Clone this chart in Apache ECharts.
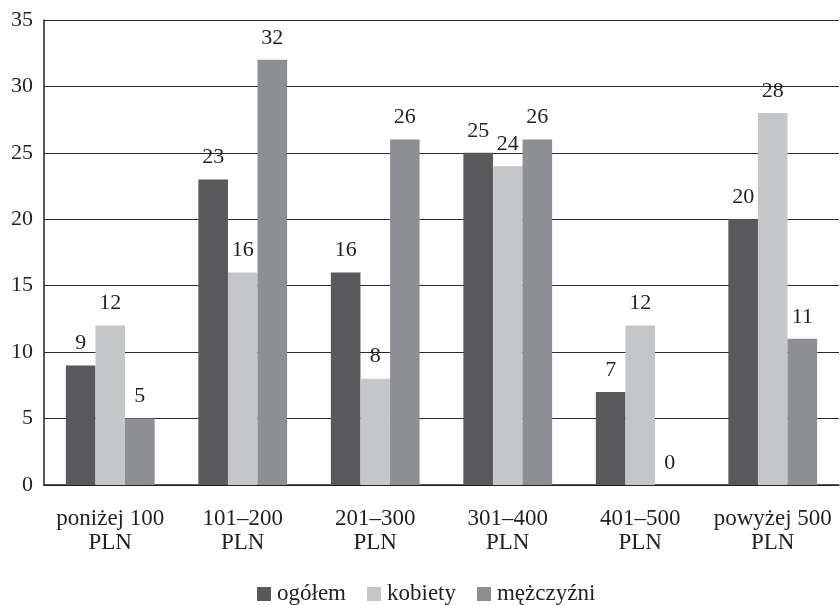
<!DOCTYPE html>
<html>
<head>
<meta charset="utf-8">
<script src="https://cdn.jsdelivr.net/npm/echarts@6/dist/echarts.min.js"></script>
<style>
  html, body { margin: 0; padding: 0; background: #fff; }
  #chart { width: 840px; height: 605px; }
</style>
</head>
<body>
<div id="chart"></div>
<script>
// Wydatki wg przedziałów kwot (%)
const categories = ['poniżej 100\nPLN', '101–200\nPLN', '201–300\nPLN', '301–400\nPLN', '401–500\nPLN', 'powyżej 500\nPLN'];
const ogolem = [9, 23, 16, 25, 7, 20];
const kobiety = [12, 16, 8, 24, 12, 28];
const mezczyzni = [5, 32, 26, 26, 0, 11];
const seriesNames = ['ogółem', 'kobiety', 'mężczyźni'];
const seriesColors = ['#59595b', '#c5c6c8', '#8e8f92'];

const FONT = '"Liberation Serif", "Times New Roman", serif';
const TEXT = '#231f20';

function barSeries(name, data, color) {
  return {
    name: name,
    type: 'bar',
    data: data,
    barGap: '0%',
    barCategoryGap: '33%',
    itemStyle: { color: color },
    label: {
      show: true,
      position: 'top',
      distance: 11,
      fontFamily: FONT,
      fontSize: 22,
      color: TEXT
    }
  };
}

const chart = echarts.init(document.getElementById('chart'), null, { renderer: 'canvas' });
chart.setOption({
  animation: false,
  backgroundColor: '#ffffff',
  grid: { left: 44, right: 1, top: 20, bottom: 120, containLabel: false },
  legend: {
    data: seriesNames,
    left: 252,
    top: 577,
    icon: 'rect',
    itemWidth: 14,
    itemHeight: 14,
    itemGap: 21,
    textStyle: { fontFamily: FONT, fontSize: 23, lineHeight: 24, color: TEXT, padding: [0, 0, 0, 1] }
  },
  xAxis: {
    type: 'category',
    data: categories,
    axisLine: { show: true, lineStyle: { color: '#231f20', width: 1.5 } },
    axisTick: { show: false },
    axisLabel: {
      fontFamily: FONT,
      fontSize: 23,
      lineHeight: 24,
      color: TEXT,
      margin: 22,
      interval: 0
    }
  },
  yAxis: {
    type: 'value',
    min: 0,
    max: 35,
    interval: 5,
    axisLine: { show: true, lineStyle: { color: '#231f20', width: 1.5 } },
    axisTick: { show: false },
    axisLabel: {
      fontFamily: FONT,
      fontSize: 22,
      color: TEXT,
      margin: 11
    },
    splitLine: { show: true, lineStyle: { color: '#2b2b2b', width: 1.2 } }
  },
  series: [
    barSeries(seriesNames[0], ogolem, seriesColors[0]),
    barSeries(seriesNames[1], kobiety, seriesColors[1]),
    barSeries(seriesNames[2], mezczyzni, seriesColors[2])
  ]
});
</script>
</body>
</html>
